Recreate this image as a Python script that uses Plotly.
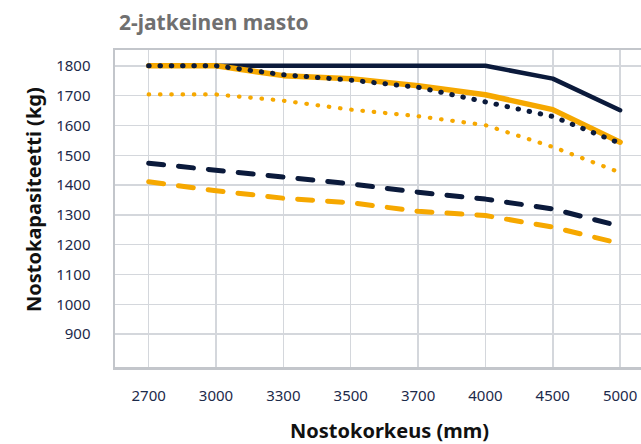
import plotly.graph_objects as go

heights = ["2700", "3000", "3300", "3500", "3700", "4000", "4500", "5000"]
navy_solid = [1800, 1800, 1800, 1800, 1800, 1800, 1757, 1651]
orange_solid = [1800, 1800, 1767, 1757, 1733, 1703, 1653, 1544]
navy_dotted = [1800, 1800, 1770, 1752, 1728, 1681, 1630, 1540]
orange_dotted = [1704, 1704, 1683, 1653, 1631, 1601, 1528, 1442]
navy_dashed = [1473, 1450, 1427, 1404, 1376, 1353, 1320, 1262]
orange_dashed = [1411, 1381, 1356, 1341, 1312, 1298, 1259, 1204]
y_ticks = [900, 1000, 1100, 1200, 1300, 1400, 1500, 1600, 1700, 1800]

NAVY = "#0b1a3b"
ORANGE = "#f6a800"

fig = go.Figure()

def add(y, color, width, dash):
    fig.add_trace(go.Scatter(x=heights, y=y, mode="lines",
                             line=dict(color=color, width=width, dash=dash),
                             hoverinfo="skip", showlegend=False))

add(navy_solid, NAVY, 4.5, "solid")
add(orange_solid, ORANGE, 5.5, "solid")
add(orange_dotted, ORANGE, 4.2, "0.5px,10.8px")
add(navy_dotted, NAVY, 5, "0.5px,10.8px")
add(navy_dashed, NAVY, 5, "15px,15px")
add(orange_dashed, ORANGE, 5, "15px,15px")

fig.update_layout(
    width=641, height=444,
    margin=dict(l=115, r=0, t=50, b=77),
    paper_bgcolor="white", plot_bgcolor="white",
    font=dict(family="Noto Sans, Open Sans, sans-serif", color="#1c2a4a"),
    title=dict(text="<b>2-jatkeinen masto</b>", xref="container", x=119/641,
               xanchor="left", y=1 - 23/444, yanchor="middle",
               font=dict(size=21, color="#707070")),
    xaxis=dict(type="category", range=[-0.5, 7.31],
               showgrid=True, gridcolor="#d4d7dc", gridwidth=1.5,
               showline=True, linecolor="#c3c6cb", linewidth=2.5, mirror=True,
               ticks="", tickfont=dict(size=15, color="#1c2a4a"),
               ticklabelstandoff=13, zeroline=False, fixedrange=True),
    yaxis=dict(range=[790, 1853], tickvals=y_ticks,
               showgrid=True, gridcolor="#d4d7dc", gridwidth=1.5,
               showline=True, linecolor="#c3c6cb", linewidth=2.5,
               ticks="", tickfont=dict(size=15, color="#1c2a4a"),
               ticklabelstandoff=19, zeroline=False, fixedrange=True),
    annotations=[
        dict(text="<b>Nostokapasiteetti (kg)</b>", xref="paper", yref="paper",
             x=(34 - 115) / 526, y=(367 - 200) / 317, textangle=-90,
             showarrow=False, xanchor="center", yanchor="middle",
             font=dict(size=20, color="#111111")),
        dict(text="<b>Nostokorkeus (mm)</b>", xref="paper", yref="paper",
             x=(389 - 115) / 526, y=-(430 - 367) / 317,
             showarrow=False, xanchor="center", yanchor="middle",
             font=dict(size=20, color="#111111")),
    ],
)

fig.write_html(
    "out.html",
    config={"displayModeBar": False, "staticPlot": True},
    post_script=(
        "document.body.style.margin='0';"
        "document.body.style.overflow='hidden';"
        "document.querySelectorAll('.scatterlayer path.js-line')"
        ".forEach(function(p){p.style.strokeLinecap='round';"
        "p.style.strokeLinejoin='round';});"
    ),
)
